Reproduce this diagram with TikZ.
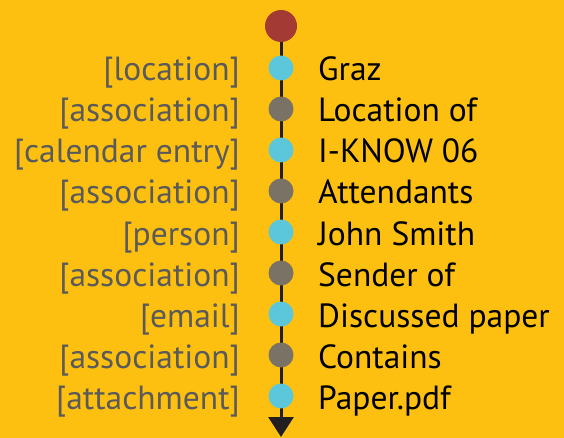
\documentclass[tikz,border=0pt]{standalone}
\usepackage{fontspec}
\setmainfont{PT Sans}
\usetikzlibrary{backgrounds,arrows.meta}
\definecolor{bg}{HTML}{FDC010}
\definecolor{topball}{HTML}{A33A33}
\definecolor{entball}{HTML}{5CC6DA}
\definecolor{assball}{HTML}{7A7264}
\definecolor{lbl}{HTML}{5A5A5A}
\definecolor{axis}{HTML}{231F20}
\begin{document}
\begin{tikzpicture}[x=1pt,y=-1pt,
  ball/.style={circle,inner sep=0pt,minimum size=25pt},
  entity/.style={ball,fill=entball},
  assoc/.style={ball,fill=assball},
  kindlabel/.style={anchor=base east,text=lbl,font=\fontsize{33.5}{36}\selectfont,inner sep=0pt},
  itemlabel/.style={anchor=base west,text=black,font=\fontsize{33.5}{36}\selectfont,inner sep=0pt}]
\useasboundingbox (0,0) rectangle (564,438);
\node[ball,minimum size=32pt,fill=topball] (top) at (281,26) {};
\coordinate (end) at (281,437);
\foreach \i/\k/\n/\s in {1/location/Graz/entity,2/association/Location of/assoc,3/calendar entry/I-KNOW 06/entity,4/association/Attendants/assoc,5/person/John Smith/entity,6/association/Sender of/assoc,7/email/Discussed paper/entity,8/association/Contains/assoc,9/attachment/Paper.pdf/entity}{
  \node[\s] (b\i) at (281,{68+41*(\i-1)}) {};
  \node[kindlabel] (k\i) at (240,{81+41*(\i-1)}) {[\k]};
  \node[itemlabel] (n\i) at (318,{81+41*(\i-1)}) {\n};
}
\begin{scope}[on background layer]
\fill[bg] (0,0) rectangle (564,438);
\draw[axis,line width=3pt,-{Triangle[width=25pt,length=20pt]}] (top) -- (end);
\end{scope}
\end{tikzpicture}
\end{document}
